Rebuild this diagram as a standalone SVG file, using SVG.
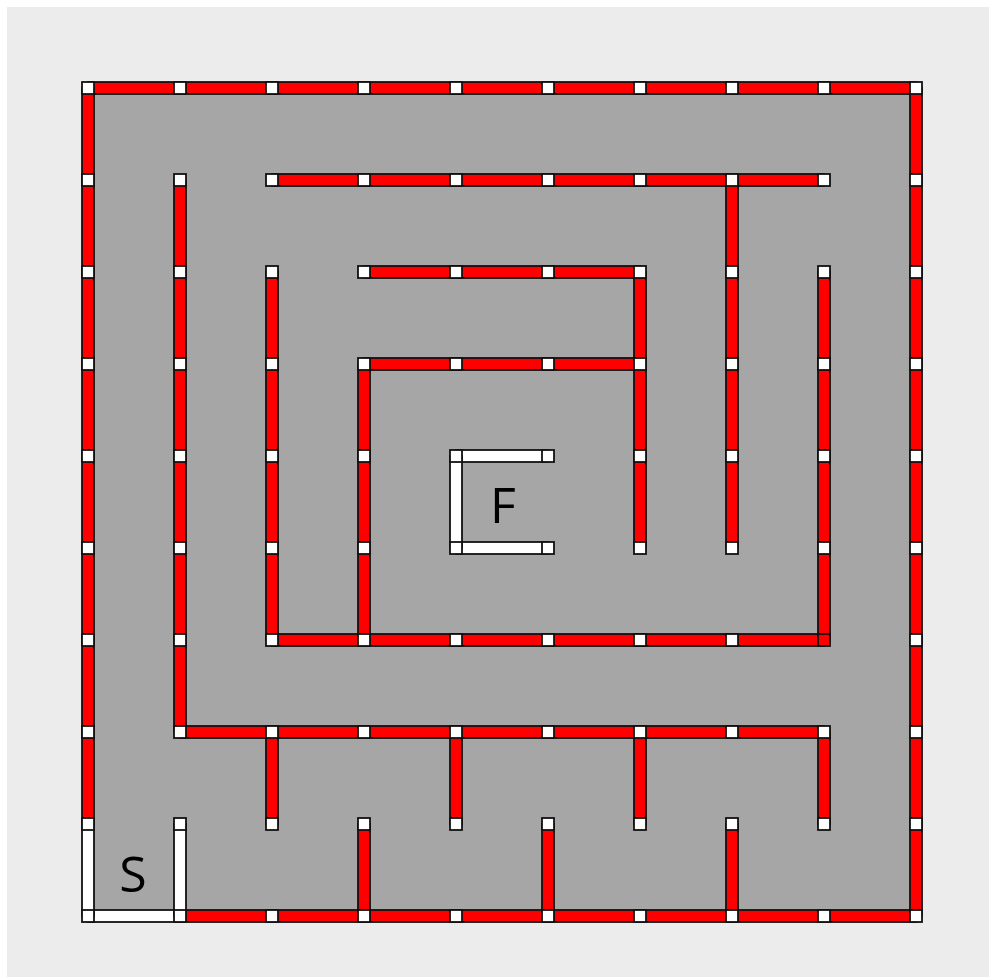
<svg xmlns="http://www.w3.org/2000/svg" xmlns:xlink="http://www.w3.org/1999/xlink" width="989" height="977" viewBox="0 0 989 977">
<style>
.bg{fill:#ececec}
.floor{fill:#a6a6a6}
.wall{fill:#ff0000;stroke:#111;stroke-width:1.8}
.open{fill:#ffffff;stroke:#111;stroke-width:1.8}
.post{fill:#ffffff;stroke:#111;stroke-width:1.8}
.postred{fill:#ff0000;stroke:#111;stroke-width:1.8}
.lbl{font-family:"Open Sans","Noto Sans","Liberation Sans",sans-serif;font-size:50px;fill:#000}
</style>
<defs>
<rect id="p" x="-6" y="-6" width="12" height="12"/>
</defs>
<rect x="0" y="0" width="989" height="977" fill="#ffffff"/>
<rect class="bg" x="7" y="7" width="982" height="970"/>
<rect class="floor" x="88" y="88" width="828" height="828"/>
<g id="walls">
<rect class="wall" x="88" y="82" width="828" height="12"/>
<rect class="wall" x="272" y="174" width="552" height="12"/>
<rect class="wall" x="364" y="266" width="276" height="12"/>
<rect class="wall" x="364" y="358" width="276" height="12"/>
<rect class="wall" x="272" y="634" width="552" height="12"/>
<rect class="wall" x="180" y="726" width="644" height="12"/>
<rect class="wall" x="180" y="910" width="736" height="12"/>
<rect class="wall" x="82" y="88" width="12" height="736"/>
<rect class="wall" x="910" y="88" width="12" height="828"/>
<rect class="wall" x="174" y="180" width="12" height="552"/>
<rect class="wall" x="266" y="272" width="12" height="368"/>
<rect class="wall" x="358" y="364" width="12" height="276"/>
<rect class="wall" x="634" y="272" width="12" height="276"/>
<rect class="wall" x="726" y="180" width="12" height="368"/>
<rect class="wall" x="818" y="272" width="12" height="368"/>
<rect class="wall" x="266" y="732" width="12" height="92"/>
<rect class="wall" x="450" y="732" width="12" height="92"/>
<rect class="wall" x="634" y="732" width="12" height="92"/>
<rect class="wall" x="818" y="732" width="12" height="92"/>
<rect class="wall" x="358" y="824" width="12" height="92"/>
<rect class="wall" x="542" y="824" width="12" height="92"/>
<rect class="wall" x="726" y="824" width="12" height="92"/>
</g>
<g id="start">
<rect class="open" x="88" y="910" width="92" height="12"/>
<rect class="open" x="82" y="824" width="12" height="92"/>
<rect class="open" x="174" y="824" width="12" height="92"/>
</g>
<g id="finish">
<rect class="open" x="456" y="450" width="92" height="12"/>
<rect class="open" x="456" y="542" width="92" height="12"/>
<rect class="open" x="450" y="456" width="12" height="92"/>
</g>
<g id="posts" class="post">
<use href="#p" x="88" y="88"/><use href="#p" x="180" y="88"/><use href="#p" x="272" y="88"/><use href="#p" x="364" y="88"/><use href="#p" x="456" y="88"/><use href="#p" x="548" y="88"/><use href="#p" x="640" y="88"/><use href="#p" x="732" y="88"/><use href="#p" x="824" y="88"/><use href="#p" x="916" y="88"/>
<use href="#p" x="88" y="916"/><use href="#p" x="180" y="916"/><use href="#p" x="272" y="916"/><use href="#p" x="364" y="916"/><use href="#p" x="456" y="916"/><use href="#p" x="548" y="916"/><use href="#p" x="640" y="916"/><use href="#p" x="732" y="916"/><use href="#p" x="824" y="916"/><use href="#p" x="916" y="916"/>
<use href="#p" x="88" y="180"/><use href="#p" x="88" y="272"/><use href="#p" x="88" y="364"/><use href="#p" x="88" y="456"/><use href="#p" x="88" y="548"/><use href="#p" x="88" y="640"/><use href="#p" x="88" y="732"/><use href="#p" x="88" y="824"/>
<use href="#p" x="916" y="180"/><use href="#p" x="916" y="272"/><use href="#p" x="916" y="364"/><use href="#p" x="916" y="456"/><use href="#p" x="916" y="548"/><use href="#p" x="916" y="640"/><use href="#p" x="916" y="732"/><use href="#p" x="916" y="824"/>
<use href="#p" x="180" y="180"/><use href="#p" x="180" y="272"/><use href="#p" x="180" y="364"/><use href="#p" x="180" y="456"/><use href="#p" x="180" y="548"/><use href="#p" x="180" y="640"/><use href="#p" x="180" y="732"/><use href="#p" x="180" y="824"/>
<use href="#p" x="272" y="180"/><use href="#p" x="364" y="180"/><use href="#p" x="456" y="180"/><use href="#p" x="548" y="180"/><use href="#p" x="640" y="180"/><use href="#p" x="732" y="180"/><use href="#p" x="824" y="180"/>
<use href="#p" x="732" y="272"/><use href="#p" x="732" y="364"/><use href="#p" x="732" y="456"/><use href="#p" x="732" y="548"/>
<use href="#p" x="364" y="272"/><use href="#p" x="456" y="272"/><use href="#p" x="548" y="272"/><use href="#p" x="640" y="272"/><use href="#p" x="272" y="272"/><use href="#p" x="824" y="272"/>
<use href="#p" x="272" y="364"/><use href="#p" x="272" y="456"/><use href="#p" x="272" y="548"/><use href="#p" x="272" y="640"/>
<use href="#p" x="824" y="364"/><use href="#p" x="824" y="456"/><use href="#p" x="824" y="548"/>
<use href="#p" x="640" y="364"/><use href="#p" x="640" y="456"/><use href="#p" x="640" y="548"/>
<use href="#p" x="364" y="364"/><use href="#p" x="456" y="364"/><use href="#p" x="548" y="364"/>
<use href="#p" x="364" y="456"/><use href="#p" x="364" y="548"/><use href="#p" x="364" y="640"/>
<use href="#p" x="456" y="640"/><use href="#p" x="548" y="640"/><use href="#p" x="640" y="640"/><use href="#p" x="732" y="640"/>
<use href="#p" x="272" y="732"/><use href="#p" x="364" y="732"/><use href="#p" x="456" y="732"/><use href="#p" x="548" y="732"/><use href="#p" x="640" y="732"/><use href="#p" x="732" y="732"/><use href="#p" x="824" y="732"/>
<use href="#p" x="272" y="824"/><use href="#p" x="456" y="824"/><use href="#p" x="640" y="824"/><use href="#p" x="824" y="824"/><use href="#p" x="364" y="824"/><use href="#p" x="548" y="824"/><use href="#p" x="732" y="824"/>
<use href="#p" x="456" y="456"/><use href="#p" x="548" y="456"/><use href="#p" x="456" y="548"/><use href="#p" x="548" y="548"/>
</g>
<g id="post-red" class="postred"><use href="#p" x="824" y="640"/></g>
<g id="labels">
<text class="lbl" x="133" y="892" text-anchor="middle">S</text>
<text class="lbl" x="503" y="523" text-anchor="middle">F</text>
</g>
</svg>
